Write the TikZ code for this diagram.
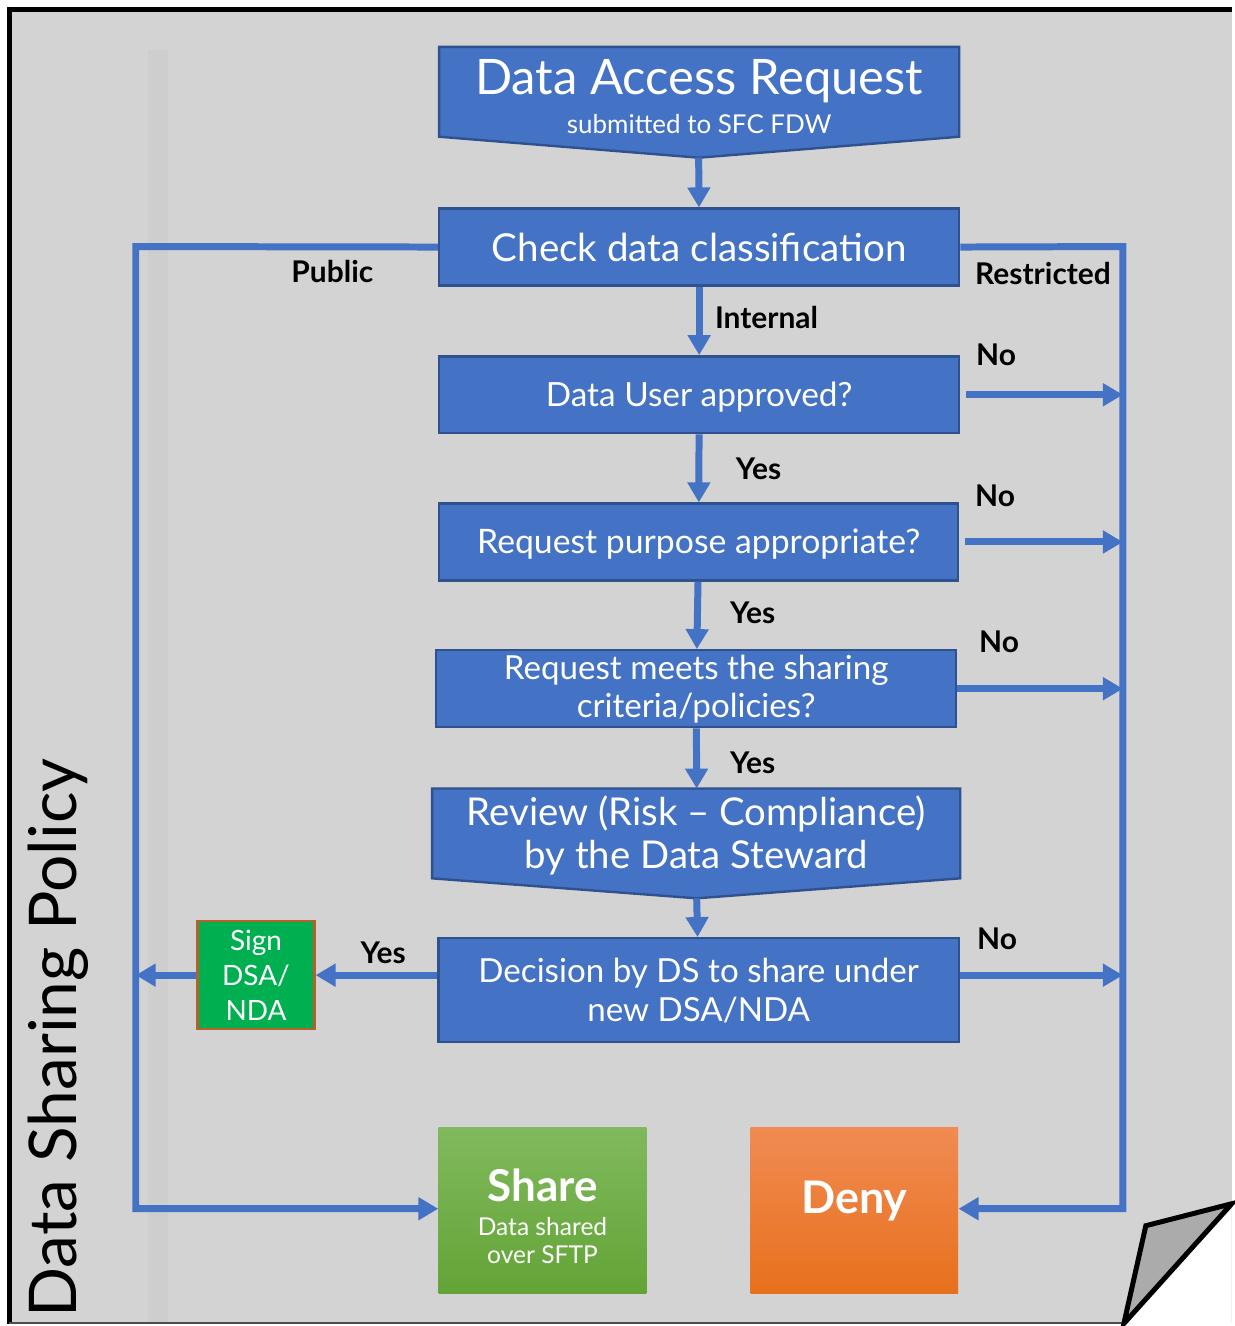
\documentclass[tikz,border=0pt]{standalone}
\usepackage{fontspec}
\setmainfont{Lato}
\usetikzlibrary{arrows.meta}

\definecolor{pagegray}{HTML}{D3D3D3}
\definecolor{stripgray}{HTML}{CECECE}
\definecolor{boxblue}{HTML}{4472C4}
\definecolor{boxedge}{HTML}{2F528F}
\definecolor{signgreen}{HTML}{00B050}
\definecolor{signedge}{HTML}{B5612B}
\definecolor{sharetop}{HTML}{80B95D}
\definecolor{sharebot}{HTML}{63A436}
\definecolor{denytop}{HTML}{F08B53}
\definecolor{denybot}{HTML}{E8701C}
\definecolor{foldgray}{HTML}{ABABAB}

\begin{document}
\begin{tikzpicture}[
      x=0.5pt, y=-0.5pt,
      bluebox/.style={
        draw=boxedge, line width=1.2pt, fill=boxblue, text=white,
        inner sep=0pt, minimum width=260.5pt, minimum height=38.5pt, align=center
      },
      boxtext/.style={text=white, inner sep=0pt, align=center},
      blueshape/.style={draw=boxedge, line width=1.2pt, fill=boxblue},
      endbox/.style={
        text=white, inner sep=0pt, minimum width=104pt, minimum height=83pt, align=center
      },
      flow/.style={draw=boxblue, line width=3.5pt, -{Triangle[length=10pt,width=11pt]}},
      wire/.style={draw=boxblue, line width=3.5pt},
      lbl/.style={font=\fontsize{15}{17}\selectfont\bfseries, inner sep=0pt},
      >=Triangle
      ]

  % Page
  \fill[white] (0,0) rectangle (1234,1326);
  \fill[pagegray] (9,9) rectangle (1234,1324);
  \fill[stripgray] (148,50) rectangle (168,1324);
  \draw[line width=2.5pt, line join=miter] (1234,9.5) -- (9.5,9.5) -- (9.5,1326);
  \draw[line width=1pt, black!70] (9,1325) -- (1126,1325);

  % Pointed boxes
  \filldraw[blueshape] (440,47) -- (961,47) -- (961,137) -- (700,158) coordinate (req tip)
    -- (440,137) -- cycle;
  \filldraw[blueshape] (433,790) -- (698,790) coordinate (review top) -- (962,790)
    -- (962,880) -- (698,900) coordinate (review tip) -- (433,880) -- cycle;

  % Define nodes
  \node[boxtext] (req) at (700.5,97)
    {{\fontsize{24.5}{26}\selectfont Data Access Request}\\[5pt]
     {\fontsize{13}{15}\selectfont submitted to SFC FDW}};
  \node[bluebox, font=\fontsize{19.3}{22}\selectfont] (check) at (700.5,247.5) {Check data classification};
  \node[bluebox, font=\fontsize{16.7}{19}\selectfont, text height=12pt, text depth=0pt] (user) at (700.5,395.5) {Data User approved?};
  \node[bluebox, font=\fontsize{16.9}{19}\selectfont, text height=12pt, text depth=0pt, minimum width=260pt] (purpose) at (700,543) {Request purpose appropriate?};
  \node[bluebox, font=\fontsize{16.6}{19}\selectfont] (meets) at (697.5,690) {Request meets the sharing\\criteria/policies?};
  \node[boxtext, font=\fontsize{19.2}{22}\selectfont] (review) at (697.5,837) {Review (Risk – Compliance)\\by the Data Steward};
  \node[bluebox, font=\fontsize{16.6}{19.5}\selectfont, minimum height=52pt] (decide) at (700,992) {Decision by DS to share under\\new DSA/NDA};
  \node[draw=signedge, line width=1.2pt, fill=signgreen, text=white, inner sep=0pt,
        minimum width=58.5pt, minimum height=54pt, align=center,
        font=\fontsize{14}{17.5}\selectfont] (sign) at (256.5,977) {Sign\\DSA/\\NDA};
  \node[endbox, top color=sharetop, bottom color=sharebot, font=\fontsize{12.3}{14}\selectfont] (share) at (543.5,1213)
    {{\fontsize{22}{24}\selectfont\bfseries\rule{0pt}{22pt}Share}\\[3pt]
     Data shared\\
     over SFTP};
  \node[endbox, top color=denytop, bottom color=denybot, text height=18pt, text depth=15pt,
        font=\fontsize{22.5}{24}\selectfont\bfseries] (deny) at (856,1213) {Deny};

  \node[rotate=90, font=\fontsize{33}{35}\selectfont, inner sep=0pt] (policy) at (58,1040) {Data Sharing Policy};

  % Corner lines
  \coordinate (ltop) at (136,247);
  \coordinate (lbot) at (136,1211);
  \coordinate (rtop) at (1125,247);
  \coordinate (rbot) at (1125,1211);

  % Connect the nodes
  \draw[flow] (req tip) -- (check);
  \draw[flow] (check) -- (user);
  \draw[flow] (user) -- (purpose);
  \draw[flow] (purpose) -- (meets);
  \draw[flow] (meets) -- (review top);
  \draw[flow] (review tip) -- (decide);
  \draw[flow] (decide.west |- sign.east) -- (sign.east);
  \draw[flow] (sign.west) -- (sign.west -| lbot);
  \draw[flow, line join=miter] (check.west) -- (ltop) -- (lbot) -- (share.west |- lbot);
  \draw[flow, line join=miter] (check.east) -- (rtop) -- (rbot) -- (deny.east |- rbot);
  \draw[flow, shorten <=3pt] (user.east) -- (user.east -| rtop);
  \draw[flow, shorten <=3pt] (purpose.east) -- (purpose.east -| rtop);
  \draw[flow] (meets.east) -- (meets.east -| rtop);
  \draw[flow] (decide.east |- sign.east) -- (rtop |- sign.east);

  % Labels
  \node[lbl] (l public) at (333,272) {Public};
  \node[lbl] (l restricted) at (1045,274) {Restricted};
  \node[lbl] (l internal) at (768,318) {Internal};
  \node[lbl] (l no1) at (998,355) {No};
  \node[lbl] (l yes1) at (760,470) {Yes};
  \node[lbl] (l no2) at (997,497) {No};
  \node[lbl] (l yes2) at (754,614) {Yes};
  \node[lbl] (l no3) at (1001,643) {No};
  \node[lbl] (l yes3) at (754,764) {Yes};
  \node[lbl] (l no4) at (999,941) {No};
  \node[lbl] (l yes4) at (384,955) {Yes};

  % Page curl
  \fill[white] (1234,1211) -- (1234,1326) -- (1125,1326) -- cycle;
  \filldraw[fill=foldgray, draw=black, line width=2.5pt, line join=miter]
    (1148,1228) -- (1234,1206) -- (1126,1326) -- cycle;

  \useasboundingbox (0,0) rectangle (1234,1326);
\end{tikzpicture}
\end{document}
